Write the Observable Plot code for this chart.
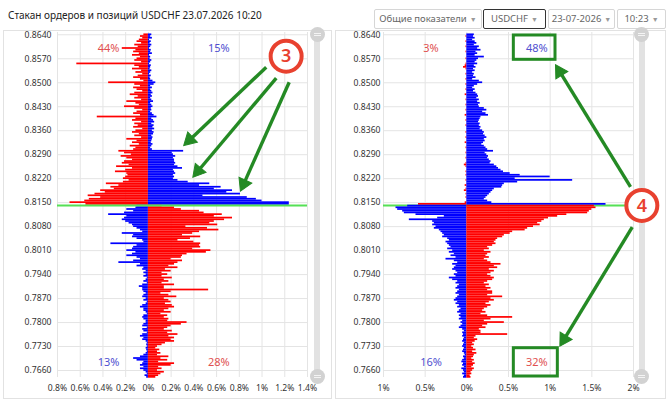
<!DOCTYPE html>
<html><head><meta charset="utf-8">
<script src="https://cdn.jsdelivr.net/npm/d3@7"></script>
<script src="https://cdn.jsdelivr.net/npm/@observablehq/plot@0.6"></script>
<style>
body{margin:0;background:#fff;}
#page{position:relative;width:670px;height:403px;overflow:hidden;font-family:"Noto Sans",sans-serif;background:#fff;}
.title{position:absolute;left:8px;top:8px;font-size:10px;color:#222;white-space:nowrap;}
.dd{position:absolute;top:9px;height:18px;line-height:18px;border:1px solid #d6d6d6;border-radius:2px;font-size:9.5px;color:#666;text-align:center;white-space:nowrap;box-sizing:content-box;}
.dd span{font-size:7px;color:#999;margin-left:3px;}
.panel{position:absolute;top:30px;height:367px;border:1px solid #e2e2e2;}
.track{position:absolute;width:6px;background:#e2e2e2;border-radius:3px;}
.knob{position:absolute;width:15px;height:15px;border-radius:50%;background:#d2d2d2;}
.knob::before,.knob::after{content:"";position:absolute;left:4px;width:7px;height:1px;background:#f4f4f4;}
.knob::before{top:6px}.knob::after{top:8px}
.chart{position:absolute;top:26px;}
</style></head><body>
<div id="page">
  <div class="title">Стакан ордеров и позиций USDCHF 23.07.2026 10:20</div>
  <div class="dd" style="left:374px;width:106px">Общие показатели<span>▼</span></div>
  <div class="dd" style="left:483px;width:61px;border-color:#333">USDCHF<span>▼</span></div>
  <div class="dd" style="left:548px;width:65px">23-07-2026<span>▼</span></div>
  <div class="dd" style="left:617px;width:47px">10:23<span>▼</span></div>
  <div class="panel" style="left:3px;width:327px"></div>
  <div class="panel" style="left:335px;width:329px"></div>
  <div class="track" style="left:314px;top:34px;height:342px"></div>
  <div class="knob" style="left:309.5px;top:26.5px"></div>
  <div class="knob" style="left:309.5px;top:368.5px"></div>
  <div class="track" style="left:638.5px;top:34px;height:342px"></div>
  <div class="knob" style="left:634px;top:26.5px"></div>
  <div class="knob" style="left:634px;top:369px"></div>
  <div id="left" class="chart" style="left:4px"></div>
  <div id="right" class="chart" style="left:334px"></div>
</div>
<script>
// price levels (categories): 0.8640 down to 0.7640, step 0.0005
const priceTop = 0.8640, priceStep = 0.0005, levelCount = 201;
const currentPrice = 0.8142;
const levels = d3.range(levelCount).map(i => +(priceTop - i * priceStep).toFixed(4));

const yTicks = [0.7660,0.7730,0.7800,0.7870,0.7940,0.8010,0.8080,0.8150,0.8220,0.8290,0.8360,0.8430,0.8500,0.8570,0.8640];
const xTicksLeft = [-0.8,-0.6,-0.4,-0.2,0,0.2,0.4,0.6,0.8,1,1.2,1.4];
const xTicksRight = [-1,-0.5,0,0.5,1,1.5,2];

// left chart: orders (% of total), negative side / positive side per level
const leftNeg = [
-0.04,-0.07,-0.05,-0.08,-0.10,-0.06,-0.12,-0.09,-0.23,-0.11,
-0.13,-0.08,-0.14,-0.07,-0.10,-0.12,-0.06,-0.63,-0.12,-0.08,
-0.14,-0.06,-0.11,-0.05,-0.09,-0.13,-0.07,-0.04,-0.35,-0.12,
-0.07,-0.13,-0.10,-0.05,-0.12,-0.16,-0.09,-0.12,-0.06,-0.19,
-0.11,-0.08,-0.21,-0.12,-0.05,-0.10,-0.13,-0.07,-0.45,-0.11,
-0.14,-0.06,-0.12,-0.09,-0.13,-0.05,-0.11,-0.14,-0.08,-0.12,
-0.06,-0.19,-0.10,-0.14,-0.08,-0.16,-0.11,-0.13,-0.26,-0.21,
-0.15,-0.24,-0.19,-0.14,-0.21,-0.23,-0.17,-0.28,-0.14,-0.20,
-0.29,-0.19,-0.18,-0.20,-0.22,-0.17,-0.22,-0.37,-0.26,-0.33,
-0.30,-0.42,-0.38,-0.47,-0.53,-0.42,-0.52,-0.56,-0.69,-0.55,
-0.10,-0.11,-0.19,-0.13,-0.21,-0.35,-0.19,-0.21,-0.23,-0.20,
-0.17,-0.14,-0.13,-0.10,-0.07,-0.05,-0.23,-0.13,-0.14,-0.10,
-0.05,-0.04,-0.33,-0.10,-0.13,-0.14,-0.19,-0.11,-0.14,-0.19,
-0.10,-0.07,-0.13,-0.26,-0.07,-0.10,-0.04,-0.05,-0.02,-0.04,
-0.02,-0.04,-0.01,-0.02,-0.04,-0.01,-0.05,-0.08,-0.05,-0.05,
-0.04,-0.02,-0.04,-0.05,-0.02,-0.04,-0.01,-0.02,-0.05,-0.07,
-0.04,-0.04,-0.02,-0.01,-0.04,-0.05,-0.04,-0.02,-0.02,-0.04,
-0.05,-0.01,-0.05,-0.04,-0.01,-0.05,-0.07,-0.04,-0.05,-0.02,
-0.01,-0.015,-0.01,-0.02,-0.015,-0.01,-0.02,-0.04,-0.07,-0.13,
-0.10,-0.04,-0.05,-0.07,-0.04,-0.07,-0.04,-0.02,-0.01,-0.03,-0.015];
const leftPos = [
0.03,0.02,0.035,0.01,0.025,0.015,0.03,0.02,0.01,0.025,
0.02,0.035,0.01,0.02,0.015,0.03,0.02,0.01,0.025,0.02,
0.015,0.03,0.02,0.01,0.025,0.015,0.02,0.04,0.065,0.05,
0.02,0.035,0.02,0.03,0.04,0.025,0.035,0.02,0.03,0.045,
0.02,0.03,0.04,0.025,0.03,0.02,0.035,0.05,0.075,0.03,
0.045,0.055,0.03,0.05,0.04,0.055,0.035,0.05,0.045,0.03,
0.04,0.035,0.03,0.025,0.04,0.03,0.02,0.035,0.31,0.21,
0.22,0.24,0.22,0.23,0.23,0.24,0.23,0.26,0.30,0.22,
0.23,0.24,0.22,0.23,0.22,0.26,0.35,0.54,0.45,0.64,
0.58,0.74,0.69,0.81,0.48,0.87,0.95,1.00,1.24,1.24,
0.12,0.23,0.29,0.45,0.49,0.65,0.58,0.74,0.67,0.58,
0.54,0.61,0.33,0.52,0.62,0.45,0.39,0.30,0.46,0.37,
0.26,0.40,0.46,0.45,0.46,0.39,0.55,0.51,0.34,0.30,
0.29,0.20,0.30,0.26,0.23,0.18,0.26,0.15,0.20,0.12,
0.17,0.12,0.21,0.14,0.18,0.12,0.23,0.14,0.14,0.53,
0.20,0.11,0.18,0.25,0.14,0.18,0.20,0.15,0.21,0.23,
0.18,0.14,0.20,0.11,0.17,0.14,0.18,0.17,0.34,0.29,
0.20,0.17,0.14,0.21,0.17,0.26,0.18,0.23,0.20,0.23,
0.15,0.12,0.08,0.065,0.10,0.08,0.11,0.08,0.18,0.11,
0.17,0.09,0.23,0.20,0.09,0.12,0.08,0.14,0.11,0.09,0.065];

// right chart: positions (% of total)
const rightNeg = [
0,-0.01,0,0,-0.01,0,0,-0.01,0,0,
-0.01,0,0,0,-0.01,0,0,-0.01,-0.02,-0.04,
-0.01,0,0,-0.01,0,0,-0.01,0,0,-0.01,
0,0,-0.01,0,0,-0.02,0,0,-0.01,0,
0,-0.01,0,0,-0.01,0,0,-0.02,0,0,
-0.01,0,0,-0.01,0,0,0,-0.01,0,0,
-0.01,0,0,-0.02,0,0,-0.01,0,0,-0.01,
0,0,-0.01,0,0,-0.01,-0.03,-0.01,0,0,
-0.01,0,-0.01,0,0,-0.01,0,0,-0.02,0,
-0.01,-0.03,0,-0.01,0,-0.01,0,0,-0.02,-0.58,
-0.71,-0.85,-0.83,-0.77,-0.75,-0.61,-0.27,-0.35,-0.69,-0.41,
-0.39,-0.41,-0.37,-0.39,-0.33,-0.31,-0.29,-0.27,-0.29,-0.23,
-0.21,-0.25,-0.23,-0.21,-0.19,-0.23,-0.17,-0.21,-0.15,-0.19,
-0.13,-0.25,-0.15,-0.11,-0.17,-0.13,-0.15,-0.17,-0.13,-0.11,
-0.15,-0.13,-0.21,-0.17,-0.11,-0.13,-0.09,-0.11,-0.13,-0.09,
-0.11,-0.13,-0.09,-0.11,-0.13,-0.15,-0.11,-0.13,-0.09,-0.11,
-0.07,-0.09,-0.11,-0.07,-0.09,-0.07,-0.09,-0.05,-0.07,-0.05,
-0.07,-0.09,-0.05,-0.03,-0.05,-0.04,-0.05,-0.03,-0.04,-0.05,
-0.03,-0.04,-0.05,-0.03,-0.04,-0.05,-0.03,-0.02,-0.04,-0.03,
-0.05,-0.06,-0.04,-0.05,-0.03,-0.06,-0.04,-0.03,-0.05,-0.03,-0.04];
const rightPos = [
0.09,0.08,0.10,0.07,0.10,0.12,0.09,0.15,0.13,0.17,
0.11,0.13,0.10,0.21,0.14,0.12,0.10,0.13,0.09,0.11,
0.08,0.10,0.07,0.09,0.08,0.11,0.07,0.15,0.19,0.13,
0.09,0.07,0.10,0.08,0.11,0.13,0.14,0.12,0.15,0.13,
0.16,0.14,0.15,0.21,0.24,0.19,0.23,0.26,0.17,0.16,
0.15,0.14,0.16,0.15,0.17,0.16,0.19,0.21,0.20,0.22,
0.24,0.21,0.22,0.20,0.18,0.21,0.23,0.25,0.32,0.22,
0.24,0.26,0.25,0.27,0.29,0.28,0.33,0.36,0.38,0.41,
0.44,0.52,0.64,1.00,0.58,1.27,0.61,0.45,0.43,0.42,
0.33,0.31,0.29,0.27,0.25,0.23,0.21,0.25,0.30,1.67,
1.53,1.55,1.50,1.47,1.45,1.20,1.09,0.98,0.93,0.90,
0.85,0.88,0.80,0.73,0.70,0.55,0.52,0.45,0.43,0.37,
0.35,0.33,0.35,0.31,0.25,0.27,0.21,0.29,0.25,0.23,
0.27,0.21,0.25,0.29,0.41,0.33,0.37,0.27,0.33,0.29,
0.25,0.29,0.33,0.31,0.25,0.21,0.27,0.23,0.29,0.25,
0.31,0.31,0.25,0.43,0.29,0.33,0.27,0.23,0.29,0.25,
0.21,0.19,0.23,0.17,0.25,0.55,0.29,0.21,0.45,0.25,
0.19,0.23,0.15,0.17,0.17,0.49,0.11,0.09,0.13,0.10,
0.07,0.09,0.06,0.08,0.11,0.07,0.12,0.09,0.08,0.06,
0.09,0.07,0.10,0.08,0.06,0.09,0.07,0.05,0.06,0.04,0.05];

// quadrant shares: [above-neg, above-pos, below-neg, below-pos]
const leftShares = ["44%","15%","13%","28%"];
const rightShares = ["3%","48%","16%","32%"];

// annotations (in data units)
const leftCallout = {label:"3", x:1.212, y:0.85775};
const leftArrows = [
  {x1:1.037, y1:0.85454, x2:0.311, y2:0.83168},
  {x1:1.125, y1:0.85133, x2:0.391, y2:0.82243},
  {x1:1.239, y1:0.85016, x2:0.810, y2:0.81834}
];
const rightCallout = {label:"4", x:2.10, y:0.81417};
const rightArrows = [
  {x1:1.964, y1:0.81961, x2:1.064, y2:0.85524},
  {x1:1.985, y1:0.80783, x2:1.116, y2:0.77309}
];
const rightBoxes = [
  {x1:0.564, x2:1.064, y1:0.85670, y2:0.86380},
  {x1:0.564, x2:1.092, y1:0.76425, y2:0.77251}
];

const RED = "#ff0000", BLUE = "#0000ff", LRED = "#e05050", LBLUE = "#5050d0";
const GREEN = "#248a24", PRICE = "#55e055", CIRCLE = "#e8412f";
const H = 372, MT = 6, MB = 21, YDOM = [0.76396, 0.86467];
const pctFmt = d => (Math.abs(d) === 0 ? "0" : String(+Math.abs(d).toFixed(2))) + "%";

function callout(c) {
  return [
    Plot.dot([c], {x: "x", y: "y", r: 15.5, stroke: CIRCLE, strokeWidth: 4, fill: "white"}),
    Plot.text([c], {x: "x", y: "y", text: "label", fill: CIRCLE, fontSize: 18, fontWeight: 600, dy: 0.5})
  ];
}
// arrows with filled triangular heads; kx, ky = pixels per data unit
function arrows(list, kx, ky) {
  const r = 5.2;
  const side = Math.sqrt(4 * Math.PI * r * r / Math.sqrt(3));
  const back = side / Math.sqrt(3);
  const heads = list.map(a => {
    const dx = (a.x2 - a.x1) * kx, dy = -(a.y2 - a.y1) * ky;
    const len = Math.hypot(dx, dy), ux = dx / len, uy = dy / len;
    return {x: a.x2 - ux * back / kx, y: a.y2 + uy * back / ky, rotate: Math.atan2(ux, -uy) * 180 / Math.PI};
  });
  const shafts = list.map((a, i) => ({x1: a.x1, y1: a.y1, x2: heads[i].x, y2: heads[i].y}));
  return [
    Plot.link(shafts, {x1: "x1", y1: "y1", x2: "x2", y2: "y2", stroke: GREEN, strokeWidth: 3.4, strokeLinecap: "butt"}),
    Plot.dot(heads, {x: "x", y: "y", symbol: "triangle", r, rotate: "rotate", fill: GREEN, stroke: GREEN, strokeWidth: 1})
  ];
}

function panel(o) {
  const kx = (o.width - o.ml - o.mr) / (o.xDomain[1] - o.xDomain[0]);
  const ky = (H - MT - MB) / (YDOM[1] - YDOM[0]);
  const rows = levels.map((p, i) => ({p, neg: o.neg[i], pos: o.pos[i]}));
  const above = rows.filter(d => d.p > currentPrice);
  const below = rows.filter(d => d.p < currentPrice);
  const h = priceStep / 2;
  const y1 = d => d.p - h, y2 = d => d.p + h;
  const priceLine = Plot.ruleY([currentPrice], {stroke: PRICE, strokeWidth: 2});
  const sharesData = o.shares.map((t, i) => ({t, i}));
  const marks = [
    Plot.gridX(o.xTicks, {stroke: "#e4e4e4", strokeOpacity: 1}),
    Plot.gridY(yTicks, {stroke: "#e4e4e4", strokeOpacity: 1}),
    o.lineOnTop ? null : priceLine,
    Plot.rect(above, {x1: 0, x2: "neg", y1, y2, fill: RED}),
    Plot.rect(above, {x1: 0, x2: "pos", y1, y2, fill: BLUE}),
    Plot.rect(below, {x1: 0, x2: "neg", y1, y2, fill: BLUE}),
    Plot.rect(below, {x1: 0, x2: "pos", y1, y2, fill: RED}),
    o.lineOnTop ? priceLine : null,
    Plot.axisY(yTicks, {tickSize: 0, tickPadding: o.padY, tickFormat: d => d.toFixed(4), fontSize: 8.6}),
    Plot.axisX(o.xTicks, {tickSize: 0, tickPadding: 7, tickFormat: pctFmt, fontSize: 8.6}),
    Plot.text(sharesData, {
      x: d => o.shareX[d.i % 2], y: d => (d.i < 2 ? 0.8600 : 0.76834), text: "t",
      fill: d => (d.i === 0 || d.i === 3 ? LRED : LBLUE), fontSize: 11
    }),
    o.boxes ? Plot.rect(o.boxes, {x1: "x1", x2: "x2", y1: "y1", y2: "y2", stroke: GREEN, strokeWidth: 3, fill: "none"}) : null,
    ...arrows(o.arrows, kx, ky),
    ...callout(o.callout)
  ].filter(Boolean);
  return Plot.plot({
    width: o.width, height: H,
    marginTop: MT, marginBottom: MB, marginLeft: o.ml, marginRight: o.mr,
    x: {domain: o.xDomain},
    y: {domain: YDOM},
    style: {fontFamily: "Noto Sans, sans-serif", fontSize: "8.6px", color: "#333", background: "transparent", overflow: "visible"},
    marks
  });
}

document.getElementById("left").append(panel({
  neg: leftNeg, pos: leftPos, xDomain: [-0.8, 1.4], xTicks: xTicksLeft,
  width: 326, ml: 53, mr: 23, padY: 6, shares: leftShares, shareX: [-0.35, 0.62], lineOnTop: true,
  arrows: leftArrows, callout: leftCallout
}));
document.getElementById("right").append(panel({
  neg: rightNeg, pos: rightPos, xDomain: [-1, 2], xTicks: xTicksRight,
  width: 331, ml: 49, mr: 32, padY: 3, shares: rightShares, shareX: [-0.43, 0.84], lineOnTop: false,
  arrows: rightArrows, callout: rightCallout, boxes: rightBoxes
}));
</script>
</body></html>
